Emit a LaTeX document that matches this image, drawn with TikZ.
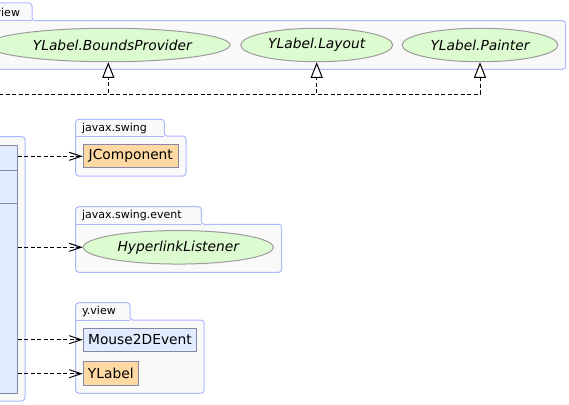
\documentclass[tikz,border=0pt]{standalone}
\usepackage{fontspec}
\setmainfont{DejaVu Sans}
\usetikzlibrary{shapes.geometric,arrows.meta}

\definecolor{pkgline}{HTML}{AEB8FF}
\definecolor{pkgfill}{HTML}{F9F9F9}
\definecolor{clsline}{HTML}{8787A8}
\definecolor{clsblue}{HTML}{E1EBFF}
\definecolor{clsorange}{HTML}{FFD9A3}
\definecolor{ifcgreen}{HTML}{DDFBD0}
\definecolor{ifcline}{HTML}{9C9C9C}

\begin{document}
\begin{tikzpicture}[x=1pt, y=-1pt, line width=1pt,
        >={Straight Barb[length=12pt, width=8pt]},
        pkg/.style={draw=pkgline, fill=pkgfill, rounded corners=3pt},
        pkgname/.style={font=\fontsize{11}{13}\selectfont, inner sep=0pt},
        cls/.style={draw=clsline, inner sep=0pt, minimum height=22.7pt, font=\fontsize{13.8}{16}\selectfont},
        ifc/.style={ellipse, draw=ifcline, fill=ifcgreen, inner sep=0pt, minimum height=33.5pt, font=\fontsize{13.8}{16}\selectfont\itshape},
        dep/.style={dashed, dash pattern=on 4pt off 2.5pt, ->},
        impl/.style={dashed, dash pattern=on 4pt off 2.5pt, -{Triangle[open, length=15.5pt, width=12pt, fill=white]}}]
        \useasboundingbox (0,0) rectangle (569,404);

        % Packages
        \draw[pkg] (-40,69.3) -- (-40,3) -- (32,3) -- (32,20.7) -- (565.7,20.7) -- (565.7,69.3) -- cycle;
        \draw[pkgline] (-40,20.7) -- (32,20.7);
        \node[pkgname, anchor=east] (viewname) at (20.5,12) {view};

        \draw[pkg] (-40,401) -- (-40,136.7) -- (25,136.7) -- (25,401) -- cycle;

        \draw[pkg] (75.7,176) -- (75.7,119.3) -- (164.3,119.3) -- (164.3,136) -- (186,136) -- (186,176) -- cycle;
        \draw[pkgline] (75.7,136) -- (164.3,136);
        \node[pkgname, anchor=west] (swingname) at (81.5,128) {javax.swing};

        \draw[pkg] (75.7,272.3) -- (75.7,206.7) -- (201.3,206.7) -- (201.3,224.3) -- (281.7,224.3) -- (281.7,272.3) -- cycle;
        \draw[pkgline] (75.7,224.3) -- (201.3,224.3);
        \node[pkgname, anchor=west] (eventname) at (81.5,215.5) {javax.swing.event};

        \draw[pkg] (75.7,393.3) -- (75.7,302.7) -- (130,302.7) -- (130,320) -- (204,320) -- (204,393.3) -- cycle;
        \draw[pkgline] (75.7,320) -- (130,320);
        \node[pkgname, anchor=west] (yviewname) at (81.5,311.5) {y.view};

        % Classes
        \node[cls, fill=clsblue, minimum width=57.3pt, minimum height=248.3pt] (main) at (-11.35,269.15) {};
        \draw[clsline] (main.north west) ++(0,26) -- ++(57.3,0);
        \draw[clsline] (main.north west) ++(0,59.3) -- ++(57.3,0);

        \node[cls, fill=clsorange, minimum width=95pt] (jcomp) at (130.8,156.3) {JComponent};
        \node[cls, fill=clsblue, minimum width=113.4pt] (mouse) at (140,339.7) {Mouse2DEvent};
        \node[cls, fill=clsorange, minimum width=55pt, minimum height=24pt] (ylabel) at (110.8,373.7) {YLabel};

        % Interfaces
        \node[ifc, minimum width=190pt] (hyper) at (178.3,247.3) {HyperlinkListener};
        \node[ifc, minimum width=243.4pt] (bounds) at (108.3,45) {\hspace*{8pt}YLabel.BoundsProvider};
        \node[ifc, minimum width=152pt] (layout) at (316.7,45) {YLabel.Layout};
        \node[ifc, minimum width=156pt] (painter) at (480,45) {YLabel.Painter};

        % Realizations
        \coordinate (implbus) at (-40,94);
        \draw[impl] (implbus) -| (bounds.south);
        \draw[impl] (implbus) -| (layout.south);
        \draw[impl] (implbus) -| (painter.south);

        % Dependencies
        \draw[dep] (main.east |- jcomp.west) -- (jcomp.west);
        \draw[dep] (main.east |- hyper.west) -- (hyper.west);
        \draw[dep] (main.east |- mouse.west) -- (mouse.west);
        \draw[dep] (main.east |- ylabel.west) -- (ylabel.west);
\end{tikzpicture}
\end{document}
